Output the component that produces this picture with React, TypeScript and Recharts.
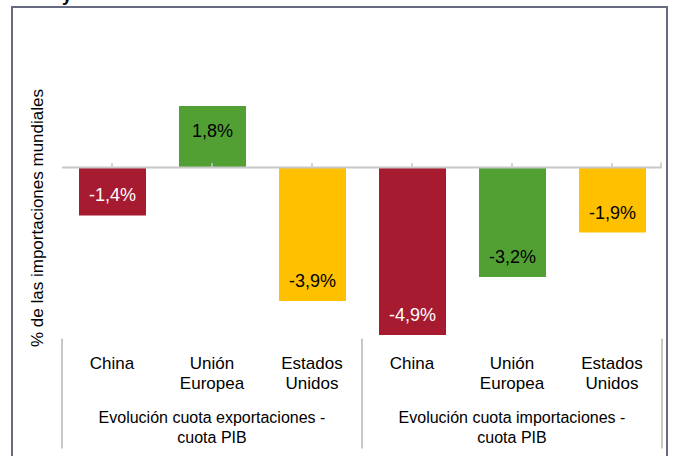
import { BarChart, Bar, XAxis, YAxis, Cell, LabelList, ReferenceLine } from 'recharts';

const groups = [
  'Evolución cuota exportaciones - cuota PIB',
  'Evolución cuota importaciones - cuota PIB',
];
const regions = ['China', 'Unión Europea', 'Estados Unidos'];
const exportValues = [-1.4, 1.8, -3.9];
const importValues = [-4.9, -3.2, -1.9];
const yDomain = [-5, 3];
const yAxisTitle = '% de las importaciones mundiales';

const regionColors = ['#A61B2F', '#52A033', '#FFC000'];
const labelColors = ['#FFFFFF', '#000000', '#000000'];
const FONT = '"Liberation Sans", Arial, sans-serif';
const GRID = '#C8C8C8';

const data = [exportValues, importValues].flatMap((vals, g) =>
  vals.map((v, i) => ({
    key: `${g}-${i}`,
    region: regions[i],
    group: groups[g],
    regionIndex: i,
    value: v,
  }))
);

const fmt = (v: number) => `${v.toFixed(1).replace('.', ',')}%`;

const CategoryTick = (props: any) => {
  const { x, y, payload } = props;
  const row = data.find((d) => d.key === payload.value);
  if (!row) return null;
  const half = payload.offset ?? 50;
  const words = row.region.split(' ');
  const [g1, g2] = row.group.split(' - ');
  return (
    <g>
      {words.map((w, k) => (
        <text
          key={k}
          x={x}
          y={y + 30 + k * 20}
          textAnchor='middle'
          fontSize={17}
          fontFamily={FONT}
          fill='#000'>
          {w}
        </text>
      ))}
      {row.regionIndex === 1 && (
        <>
          <text x={x} y={y + 84} textAnchor='middle' fontSize={16} fontFamily={FONT} fill='#000'>
            {g1} -
          </text>
          <text x={x} y={y + 104} textAnchor='middle' fontSize={16} fontFamily={FONT} fill='#000'>
            {g2}
          </text>
        </>
      )}
      {row.regionIndex === 0 && (
        <line x1={x - half} y1={y} x2={x - half} y2={y + 110} stroke={GRID} strokeWidth={2} />
      )}
      {payload.value === data[data.length - 1].key && (
        <line x1={x + half} y1={y} x2={x + half} y2={y + 110} stroke={GRID} strokeWidth={2} />
      )}
    </g>
  );
};

const BarValueLabel = (props: any) => {
  const { x, y, width, height, value, index } = props;
  const top = Math.min(y, y + height);
  const bottom = Math.max(y, y + height);
  const cy = value >= 0 ? top + 25 : bottom - 20;
  const row = data[index];
  return (
    <text
      x={x + width / 2}
      y={cy}
      textAnchor='middle'
      dominantBaseline='central'
      fontSize={18}
      fontFamily={FONT}
      fill={row ? labelColors[row.regionIndex] : '#000'}>
      {fmt(value)}
    </text>
  );
};

const ZeroLine = (p: any) => (
  <g>
    <line x1={p.x1} y1={p.y1} x2={p.x2} y2={p.y2} stroke={GRID} strokeWidth={2} />
    <line x1={p.x2 - 1} y1={p.y2} x2={p.x2 - 1} y2={p.y2 - 5} stroke={GRID} strokeWidth={1.5} />
  </g>
);

export default function App() {
  return (
    <div style={{ position: 'absolute', left: 0, top: 0, width: 675, height: 456, background: '#fff' }}>
      <BarChart
        width={675}
        height={456}
        data={data}
        margin={{ top: 65, right: 13, left: 62, bottom: 0 }}>
        <XAxis
          dataKey='key'
          axisLine={false}
          tickLine={false}
          tickSize={0}
          tickMargin={0}
          interval={0}
          height={117.5}
          tick={<CategoryTick />}
        />
        <YAxis hide domain={yDomain} type='number' />
        <Bar dataKey='value' barSize={67} isAnimationActive={false}>
          {data.map((d) => (
            <Cell key={d.key} fill={regionColors[d.regionIndex]} />
          ))}
          <LabelList dataKey='value' content={<BarValueLabel />} />
        </Bar>
        <ReferenceLine y={0} shape={<ZeroLine />} />
        {data.map((d) => (
          <ReferenceLine
            key={d.key}
            segment={[
              { x: d.key, y: 0 },
              { x: d.key, y: 0.13 },
            ]}
            stroke={GRID}
            strokeWidth={1.5}
          />
        ))}
      </BarChart>
      <svg
        width={675}
        height={456}
        style={{ position: 'absolute', left: 0, top: 0, pointerEvents: 'none' }}>
        <rect x={12} y={7} width={655} height={470} fill='none' stroke='#676A80' strokeWidth={2} />
        <text x={62} y={1} fontSize={18} fontWeight='bold' fontFamily={FONT} fill='#000'>
          y
        </text>
        <text
          x={37}
          y={218}
          transform='rotate(-90 37 218)'
          textAnchor='middle'
          dominantBaseline='central'
          fontSize={17}
          fontFamily={FONT}
          fill='#000'>
          {yAxisTitle}
        </text>
      </svg>
    </div>
  );
}
